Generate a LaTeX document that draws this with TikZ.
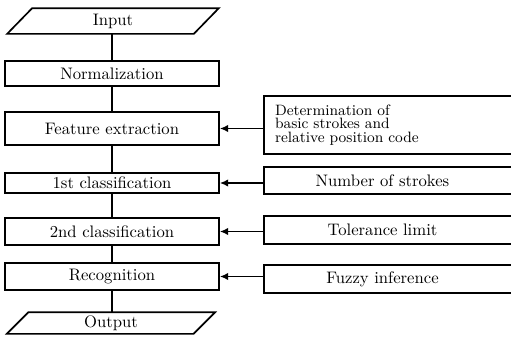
\documentclass[tikz,border=0pt]{standalone}
\usepackage{fontspec}
\usetikzlibrary{arrows.meta}

\begin{document}
\begin{tikzpicture}[x=0.6pt,y=-0.6pt,line width=1pt,
  stage/.style={draw,minimum width=128.4pt,inner sep=1pt,font=\addfontfeature{LetterSpace=3}},
  io/.style={minimum width=111pt,inner sep=1pt,font=\addfontfeature{LetterSpace=3}},
  aid/.style={minimum width=141pt,inner sep=1pt,font=\addfontfeature{LetterSpace=4}},
  feed/.style={-{Latex[length=5pt,width=4.5pt]}}]
\useasboundingbox (0,0) rectangle (511,340);
% main flow
\node[io,minimum height=14.4pt] at (113,21) (in) {Input};
\node[stage,minimum height=15pt] at (112,73.5) (norm) {Normalization};
\node[stage,minimum height=19.8pt] at (112,128.5) (feat) {Feature extraction};
\node[stage,minimum height=12pt] at (112,183) (cls1) {1st classification};
\node[stage,minimum height=16.2pt] at (112,231.5) (cls2) {2nd classification};
\node[stage,minimum height=16.2pt] at (112,276.5) (rec) {Recognition};
\node[io,minimum height=12pt] at (111,323) (out) {Output};
\draw ([xshift=7.5pt]in.north west) -- ([xshift=7.5pt]in.north east) -- ([xshift=-7.5pt]in.south east) -- ([xshift=-7.5pt]in.south west) -- cycle;
\draw ([xshift=6.5pt]out.north west) -- ([xshift=6.5pt]out.north east) -- ([xshift=-6.5pt]out.south east) -- ([xshift=-6.5pt]out.south west) -- cycle;
\draw (in.south -| norm) -- (norm);
\draw (norm) -- (feat);
\draw (feat) -- (cls1);
\draw (cls1) -- (cls2);
\draw (cls2) -- (rec);
\draw (rec) -- (out.north -| rec);
% side inputs
\node[aid,minimum height=33.6pt,align=left,text width=129pt,font=\fontsize{9}{8.2}\selectfont\addfontfeature{LetterSpace=6}] at (382.5,125) (det) {Determination of\\basic strokes and\\relative position code};
\node[aid,minimum height=15pt] at (382.5,180.5) (num) {Number of strokes};
\node[aid,minimum height=15.6pt] at (382.5,230) (tol) {Tolerance limit};
\node[aid,minimum height=15.6pt] at (382.5,279) (fuz) {Fuzzy inference};
\draw ([xshift=10pt]det.north east) -- (det.north west) -- (det.south west) -- ([xshift=10pt]det.south east);
\draw ([xshift=10pt]num.north east) -- (num.north west) -- (num.south west) -- ([xshift=10pt]num.south east);
\draw ([xshift=10pt]tol.north east) -- (tol.north west) -- (tol.south west) -- ([xshift=10pt]tol.south east);
\draw ([xshift=10pt]fuz.north east) -- (fuz.north west) -- (fuz.south west) -- ([xshift=10pt]fuz.south east);
\draw[feed] (det.west |- feat) -- (feat);
\draw[feed] (num.west |- cls1) -- (cls1);
\draw[feed] (tol.west |- cls2) -- (cls2);
\draw[feed] (fuz.west |- rec) -- (rec);
\end{tikzpicture}
\end{document}
